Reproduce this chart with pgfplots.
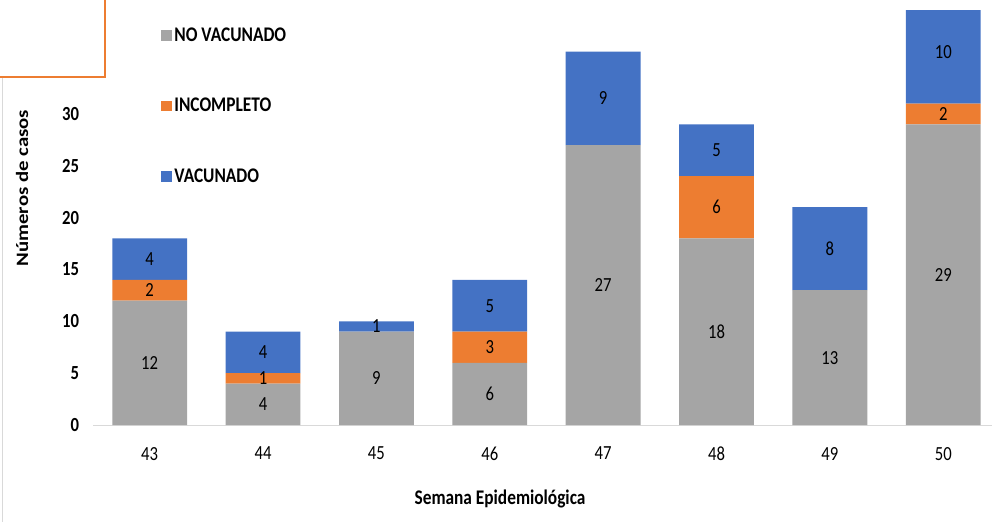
\documentclass[border=0pt]{standalone}
\usepackage{fontspec}
\setmainfont{Carlito}
\usepackage{graphicx}
\usepackage{pgfplots}
\usepackage{pgfplotstable}
\pgfplotsset{compat=1.18}

\definecolor{cNo}{HTML}{A5A5A5}
\definecolor{cInc}{HTML}{ED7D31}
\definecolor{cVac}{HTML}{4472C4}
\definecolor{cAx}{HTML}{D9D9D9}

% the reference is a bit stretched vertically
\newcommand{\vs}[1]{\scalebox{1}[1.2]{#1}}

\pgfplotstableread{
sem nv inc vac
43 12 2 4
44 4 1 4
45 9 0 1
46 6 3 5
47 27 0 9
48 18 6 5
49 13 0 8
50 29 2 10
}\casos

\begin{document}
\begin{tikzpicture}
\useasboundingbox (0,0) rectangle (744pt,391.5pt);
\begin{scope}
% last bar is cut at 40 in the reference
\clip (0,0) rectangle (744pt,383.85pt);
\begin{axis}[
  at={(69.75pt,72.75pt)}, anchor=south west,
  scale only axis, width=674.25pt, height=311.1pt,
  ybar stacked, bar width=0.66, clip=false,
  xmin=42.5, xmax=50.43, ymin=0, ymax=40,
  xtick={43,...,50}, ytick={0,5,...,30},
  axis x line*=bottom, axis y line*=left,
  y axis line style={draw=none},
  x axis line style={cAx, line width=0.75pt},
  major tick length=0pt,
  /pgf/number format/assume math mode=true,
  xticklabel={\vs{\pgfmathprintnumber{\tick}}},
  yticklabel={\vs{\pgfmathprintnumber{\tick}}},
  xticklabel style={font=\fontsize{12.5}{14}\selectfont, yshift=-13pt},
  yticklabel style={font=\bfseries\fontsize{12.5}{14}\selectfont, xshift=-7pt},
  nodes near coords={\pgfmathfloatifflags{\pgfplotspointmeta}{0}{}{\vs{\pgfmathprintnumber{\pgfplotspointmeta}}}},
  every node near coord/.append style={anchor=center,
    font=\fontsize{12.5}{14}\selectfont, text=black},
  legend style={at={(0.071,0.971)}, anchor=north west, draw=none, fill=none,
    font=\bfseries\fontsize{13}{15}\selectfont, row sep=37pt, cells={anchor=west}},
]
\addplot[fill=cNo, draw=none,
  legend image code/.code={\fill[cNo] (0pt,-4pt) rectangle (8pt,4pt);}]
  table[x=sem, y=nv]{\casos};
\addplot[fill=cInc, draw=none,
  legend image code/.code={\fill[cInc] (0pt,-4pt) rectangle (8pt,4pt);}]
  table[x=sem, y=inc]{\casos};
\addplot[fill=cVac, draw=none,
  legend image code/.code={\fill[cVac] (0pt,-4pt) rectangle (8pt,4pt);}]
  table[x=sem, y=vac]{\casos};
\legend{\vs{NO VACUNADO}, \vs{INCOMPLETO}, \vs{VACUNADO}}
\end{axis}
\end{scope}
\node[rotate=90, font=\bfseries\fontsize{13}{15}\selectfont] at (16.5pt,250.5pt)
  {\scalebox{1.2}[1]{Números de casos}};
\node[font=\bfseries\fontsize{13}{15}\selectfont] at (375pt,17pt)
  {\vs{Semana Epidemiológica}};
% frame fragments at the top left
\draw[cInc, line width=1.4pt] (0,333.75pt) -- (78.75pt,333.75pt) -- (78.75pt,391.5pt);
\draw[cAx, line width=0.75pt] (1.5pt,333pt) -- (1.5pt,0);
\end{tikzpicture}
\end{document}
